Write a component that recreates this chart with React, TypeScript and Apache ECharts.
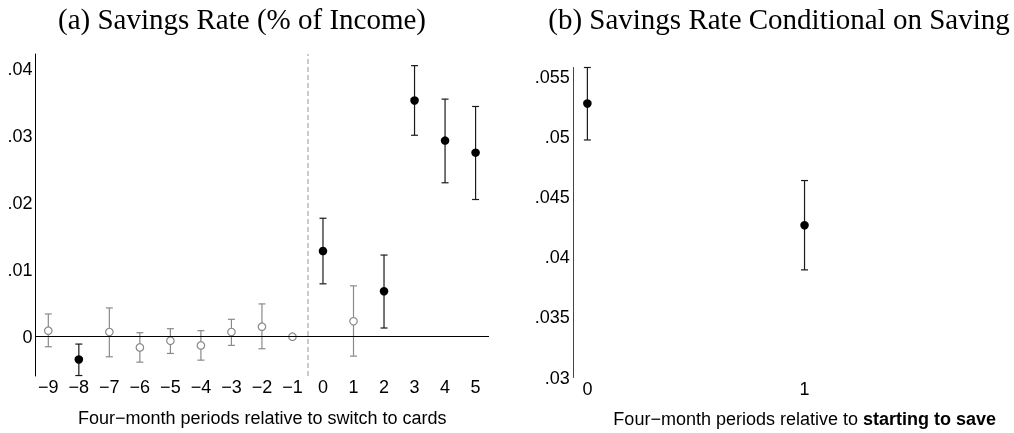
import React, { useEffect, useRef } from "react";
import * as echarts from "echarts";

// Panel (a): savings rate relative to switch to cards
const periodsA = [-9, -8, -7, -6, -5, -4, -3, -2, -1, 0, 1, 2, 3, 4, 5];
const estA = [0.0009, -0.0034, 0.0007, -0.0016, -0.0006, -0.0013, 0.0007, 0.0015, 0, 0.0128, 0.0023, 0.0068, 0.0353, 0.0293, 0.0275];
const lowA = [-0.0015, -0.0058, -0.003, -0.0038, -0.0025, -0.0035, -0.0013, -0.0018, null, 0.0079, -0.0029, 0.0013, 0.0301, 0.023, 0.0205];
const highA = [0.0034, -0.0011, 0.0043, 0.0006, 0.0012, 0.0009, 0.0026, 0.0049, null, 0.0177, 0.0076, 0.0122, 0.0405, 0.0355, 0.0344];
const significantA = [false, true, false, false, false, false, false, false, false, true, false, true, true, true, true];
const yTicksA = [0, 0.01, 0.02, 0.03, 0.04];

// Panel (b): savings rate conditional on saving
const periodsB = [0, 1];
const estB = [0.05276, 0.04265];
const lowB = [0.04973, 0.03894];
const highB = [0.05575, 0.04636];
const yTicksB = [0.03, 0.035, 0.04, 0.045, 0.05, 0.055];

const SANS = "Liberation Sans";
const SERIF = "Liberation Serif";
const GREY = "#8a8a8a";

const fmt = (v: number) => (v === 0 ? "0" : String(+v.toFixed(3)).replace(/^0/, "").replace(/^-0/, "-"));
const fmtX = (v: number) => (v < 0 ? "\u2212" + Math.abs(v) : String(v));

function errRender(color: string) {
  return (params: any, api: any) => {
    const x = api.value(0);
    const lo = api.value(1);
    const hi = api.value(2);
    const p1 = api.coord([x, hi]);
    const p2 = api.coord([x, lo]);
    const cap = 3.5;
    const style = { stroke: color, lineWidth: 1.2 };
    return {
      type: "group",
      children: [
        { type: "line", shape: { x1: p1[0], y1: p1[1], x2: p2[0], y2: p2[1] }, style },
        { type: "line", shape: { x1: p1[0] - cap, y1: p1[1], x2: p1[0] + cap, y2: p1[1] }, style },
        { type: "line", shape: { x1: p2[0] - cap, y1: p2[1], x2: p2[0] + cap, y2: p2[1] }, style },
      ],
    };
  };
}

export default function App() {
  const ref = useRef<HTMLDivElement>(null);
  useEffect(() => {
    if (!ref.current) return;
    const chart = echarts.init(ref.current, null, { renderer: "svg" });

    const errSig: any[] = [];
    const errIns: any[] = [];
    const ptSig: any[] = [];
    const ptIns: any[] = [];
    periodsA.forEach((p, i) => {
      if (lowA[i] !== null && highA[i] !== null) {
        (significantA[i] ? errSig : errIns).push([p, lowA[i], highA[i]]);
      }
      (significantA[i] ? ptSig : ptIns).push([p, estA[i]]);
    });
    const errB = periodsB.map((p, i) => [p, lowB[i], highB[i]]);
    const ptB = periodsB.map((p, i) => [p, estB[i]]);

    const labelStyle = { color: "#000", fontFamily: SANS, fontSize: 18 };

    chart.setOption({
      animation: false,
      graphic: [
        {
          type: "text",
          x: 242,
          y: 19,
          style: { text: "(a) Savings Rate (% of Income)", fontFamily: SERIF, fontSize: 29, fill: "#000", align: "center", verticalAlign: "middle" },
        },
        {
          type: "text",
          x: 779,
          y: 19,
          style: { text: "(b) Savings Rate Conditional on Saving", fontFamily: SERIF, fontSize: 29, fill: "#000", align: "center", verticalAlign: "middle" },
        },
      ],
      grid: [
        { left: 35.5, width: 453.5, top: 54, bottom: 57, outerBoundsMode: "none", containLabel: false },
        { left: 573.7, width: 462, top: 67.5, bottom: 55.5, outerBoundsMode: "none", containLabel: false },
      ],
      xAxis: [
        {
          type: "value",
          gridIndex: 0,
          min: -9.42,
          max: 5.44,
          axisLine: { show: false },
          axisTick: { show: false },
          splitLine: { show: false },
          axisLabel: { ...labelStyle, customValues: periodsA, formatter: fmtX, margin: 2 },
          name: "Four\u2212month periods relative to switch to cards",
          nameLocation: "middle",
          nameGap: 33,
          nameTextStyle: { color: "#000", fontFamily: SANS, fontSize: 18 },
        },
        {
          type: "value",
          gridIndex: 1,
          min: -0.063,
          max: 2.0645,
          axisLine: { show: false },
          axisTick: { show: false },
          splitLine: { show: false },
          axisLabel: { ...labelStyle, customValues: periodsB, formatter: fmtX, margin: 2 },
          name: "Four\u2212month periods relative to {b|starting to save}",
          nameLocation: "middle",
          nameGap: 32,
          nameTextStyle: {
            color: "#000",
            fontFamily: SANS,
            fontSize: 18,
            rich: { b: { fontWeight: "bold", fontFamily: SANS, fontSize: 18, color: "#000" } },
          },
        },
      ],
      yAxis: [
        {
          type: "value",
          gridIndex: 0,
          min: -0.00587,
          max: 0.04224,
          axisLine: { show: true, onZero: false, lineStyle: { color: "#000", width: 1 } },
          axisTick: { show: false },
          splitLine: { show: false },
          axisLabel: { ...labelStyle, customValues: yTicksA, formatter: fmt, margin: 3 },
        },
        {
          type: "value",
          gridIndex: 1,
          min: 0.03,
          max: 0.05575,
          axisLine: { show: true, onZero: false, lineStyle: { color: "#444", width: 1 } },
          axisTick: { show: false },
          splitLine: { show: false },
          axisLabel: { ...labelStyle, customValues: yTicksB, formatter: fmt, margin: 4 },
        },
      ],
      series: [
        {
          type: "custom",
          xAxisIndex: 0,
          yAxisIndex: 0,
          renderItem: errRender(GREY),
          data: errIns,
          z: 2,
          markLine: {
            silent: true,
            symbol: ["none", "none"],
            label: { show: false },
            data: [
              { yAxis: 0, lineStyle: { color: "#000", width: 1, type: "solid" } },
              { xAxis: -0.5, lineStyle: { color: "#bbb", width: 1.5, type: [5, 3] } },
            ],
          },
        },
        { type: "custom", xAxisIndex: 0, yAxisIndex: 0, renderItem: errRender("#1a1a1a"), data: errSig, z: 3 },
        {
          type: "scatter",
          xAxisIndex: 0,
          yAxisIndex: 0,
          data: ptIns,
          symbol: "circle",
          symbolSize: 7.5,
          itemStyle: { color: "#fff", borderColor: GREY, borderWidth: 1.2, opacity: 1 },
          z: 4,
        },
        {
          type: "scatter",
          xAxisIndex: 0,
          yAxisIndex: 0,
          data: ptSig,
          symbol: "circle",
          symbolSize: 8.5,
          itemStyle: { color: "#000", opacity: 1 },
          z: 5,
        },
        { type: "custom", xAxisIndex: 1, yAxisIndex: 1, renderItem: errRender("#1a1a1a"), data: errB, z: 3 },
        {
          type: "scatter",
          xAxisIndex: 1,
          yAxisIndex: 1,
          data: ptB,
          symbol: "circle",
          symbolSize: 8.5,
          itemStyle: { color: "#000", opacity: 1 },
          z: 5,
        },
      ],
    });
    return () => chart.dispose();
  }, []);
  return <div ref={ref} style={{ position: "fixed", left: 0, top: 0, width: 1014, height: 433 }} />;
}
